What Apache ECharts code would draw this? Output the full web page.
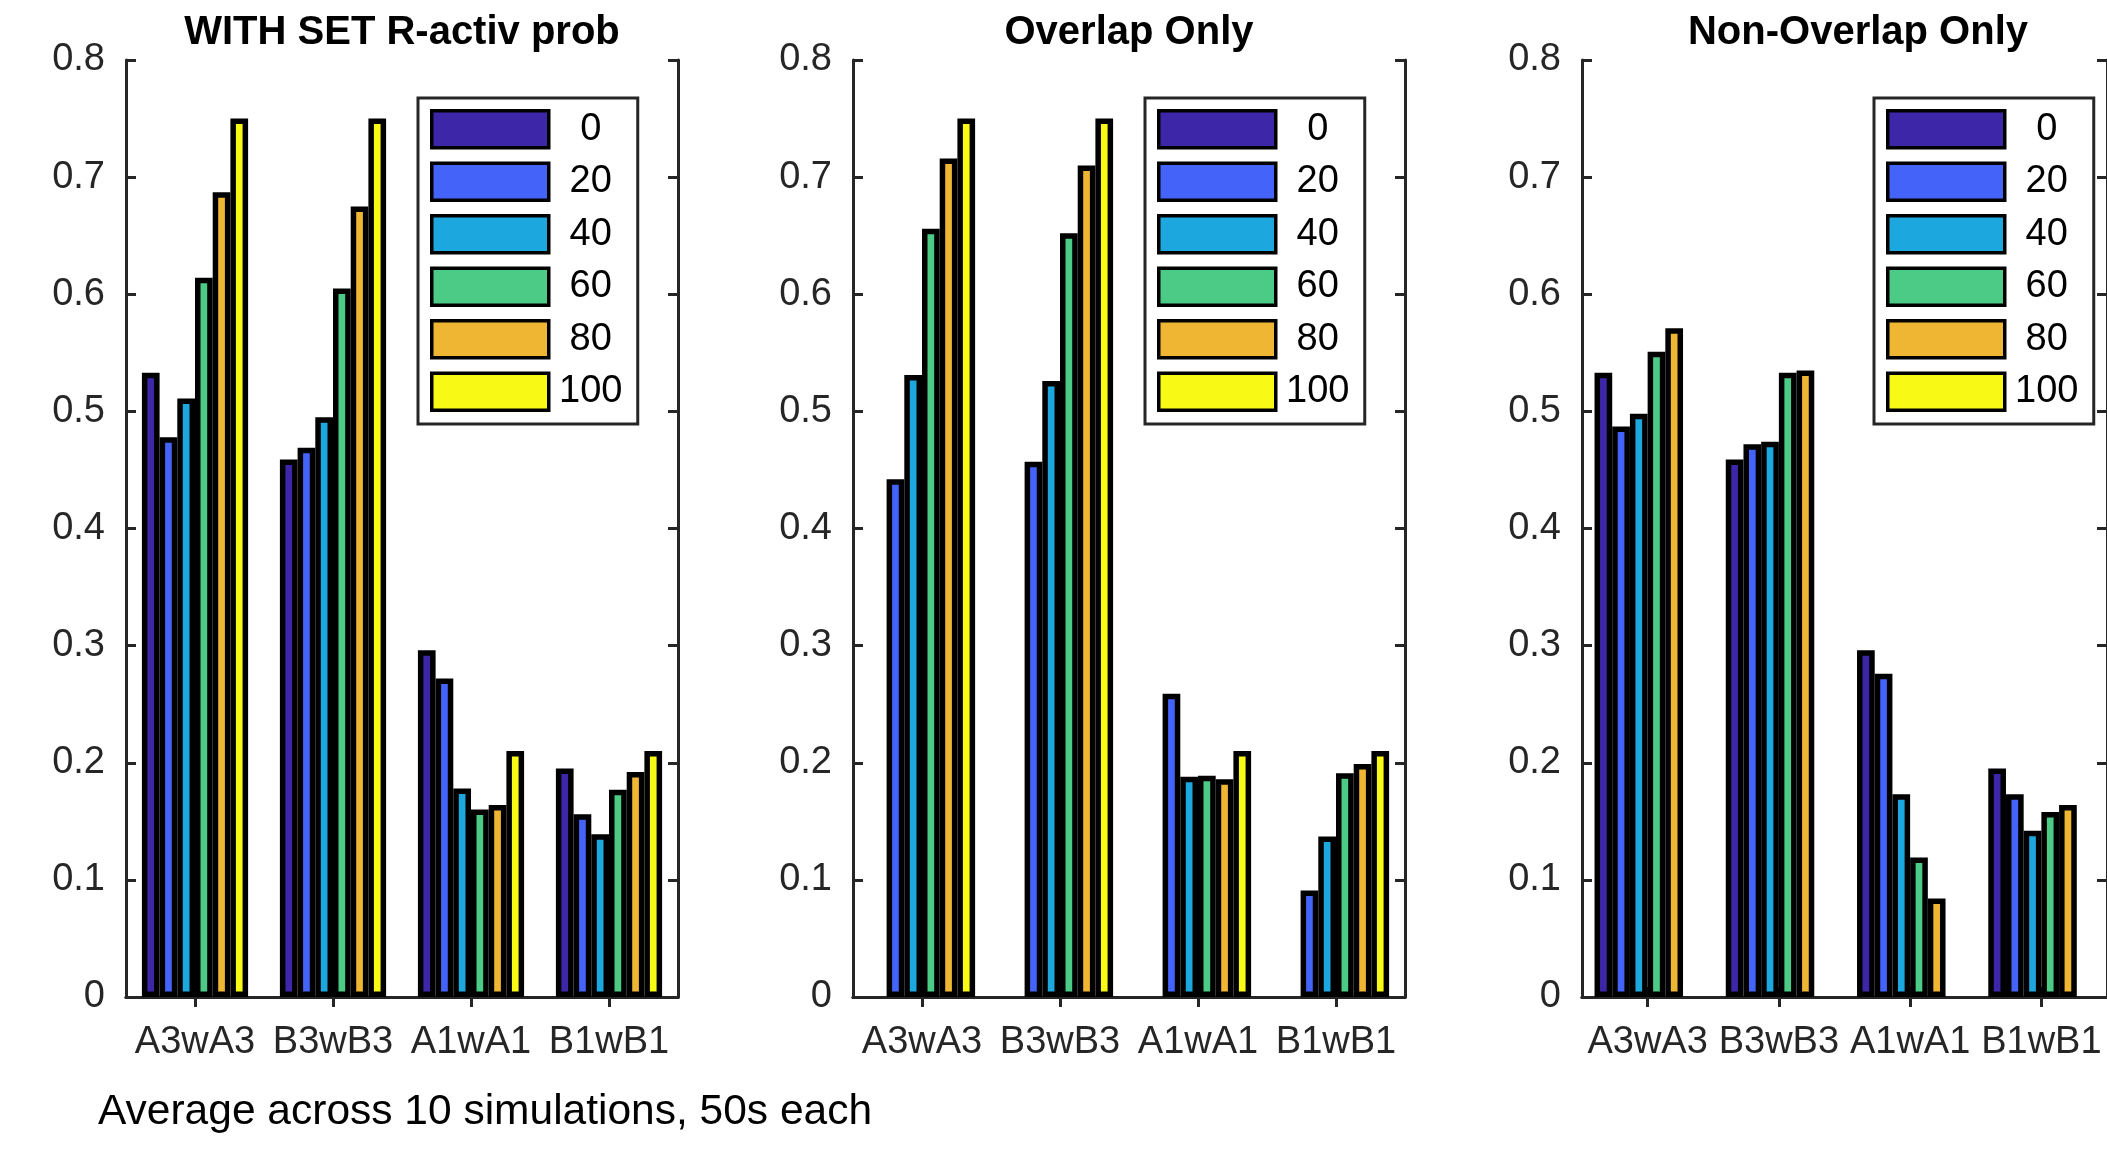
<!DOCTYPE html>
<html>
<head>
<meta charset="utf-8">
<title>R-activ prob</title>
<script src="https://cdn.jsdelivr.net/npm/echarts@6/dist/echarts.min.js"></script>
<style>
  html, body { margin: 0; padding: 0; background: #fff; }
  #chart { width: 2107px; height: 1150px; }
</style>
</head>
<body>
<div id="chart"></div>
<script>
const categories = ['A3wA3', 'B3wB3', 'A1wA1', 'B1wB1']
const probNames = ['0', '20', '40', '60', '80', '100']
const barColors = ['#3d26a8', '#4363f9', '#1ca8de', '#4bcb85', '#efb634', '#f8f915']
const yTicks = [0, 0.1, 0.2, 0.3, 0.4, 0.5, 0.6, 0.7, 0.8]
const panelTitles = ['WITH SET R-activ prob', 'Overlap Only', 'Non-Overlap Only']
const footNote = 'Average across 10 simulations, 50s each'

// one row per R-activ prob (0..100), one value per category
const withSetVals = [
    [0.533, 0.459, 0.296, 0.195],
    [0.478, 0.469, 0.272, 0.156],
    [0.511, 0.495, 0.178, 0.139],
    [0.614, 0.605, 0.160, 0.177],
    [0.687, 0.675, 0.164, 0.192],
    [0.750, 0.750, 0.210, 0.210]
]
const overlapVals = [
    [0, 0, 0, 0],
    [0.442, 0.457, 0.259, 0.091],
    [0.531, 0.526, 0.188, 0.137],
    [0.656, 0.652, 0.189, 0.191],
    [0.716, 0.710, 0.186, 0.199],
    [0.750, 0.750, 0.210, 0.210]
]
const nonOverlapVals = [
    [0.533, 0.459, 0.296, 0.195],
    [0.487, 0.472, 0.276, 0.173],
    [0.498, 0.474, 0.173, 0.142],
    [0.551, 0.533, 0.119, 0.158],
    [0.571, 0.535, 0.084, 0.164],
    [0, 0, 0, 0]
]

const panelVals = [withSetVals, overlapVals, nonOverlapVals]
const panelLeft = [126, 853, 1582]
const panelWidth = 552
const font = "'Liberation Sans', Arial, Helvetica, sans-serif"
const axisColor = '#262626'

const grids = []
const xAxes = []
const yAxes = []
const series = []
const titles = []
const legends = []

panelLeft.forEach((left, p) => {
    grids.push({ left: left, width: panelWidth, top: 60, bottom: 153, containLabel: false })

    // bottom category axis with labels, top one only for the inner ticks
    xAxes.push({
        type: 'category', gridIndex: p, data: categories, position: 'bottom',
        axisLine: { show: true, lineStyle: { color: axisColor, width: 3 } },
        axisTick: { show: true, inside: true, alignWithLabel: true, length: 10, lineStyle: { color: axisColor, width: 3 } },
        axisLabel: { color: axisColor, fontSize: 38, fontFamily: font, margin: 27, interval: 0 },
        splitLine: { show: false }
    })
    xAxes.push({
        type: 'category', gridIndex: p, data: categories, position: 'top',
        axisLine: { show: true, lineStyle: { color: axisColor, width: 3 } },
        axisTick: { show: true, inside: true, alignWithLabel: true, length: 10, lineStyle: { color: axisColor, width: 3 } },
        axisLabel: { show: false },
        splitLine: { show: false }
    })

    const yBase = {
        type: 'value', gridIndex: p, min: 0, max: 0.8, interval: 0.1,
        axisLine: { show: true, lineStyle: { color: axisColor, width: 3 } },
        axisTick: { show: true, inside: true, length: 10, lineStyle: { color: axisColor, width: 3 } },
        splitLine: { show: false }
    }
    yAxes.push(Object.assign({}, yBase, {
        position: 'left',
        axisLabel: {
            color: axisColor, fontSize: 38, fontFamily: font, margin: 21,
            formatter: v => String(yTicks[Math.round(v * 10)])
        }
    }))
    yAxes.push(Object.assign({}, yBase, { position: 'right', axisLabel: { show: false } }))

    panelVals[p].forEach((vals, s) => {
        series.push({
            name: probNames[s],
            type: 'bar',
            xAxisIndex: p * 2,
            yAxisIndex: p * 2,
            // zero bars: no edge, so nothing is stroked on the axis
            data: vals.map(v => v === 0 ? { value: 0, itemStyle: { borderWidth: 0 } } : v),
            barWidth: 17.7,
            barGap: '0%',
            itemStyle: { color: barColors[s], borderColor: '#000', borderWidth: 5.5 },
            emphasis: { disabled: true },
            animation: false
        })
    })

    titles.push({
        text: panelTitles[p],
        left: left + panelWidth / 2,
        top: 13,
        textAlign: 'center',
        padding: 0,
        textStyle: { fontSize: 40, fontWeight: 'bold', color: '#000', fontFamily: font }
    })

    legends.push({
        data: probNames,
        orient: 'vertical',
        left: left + 292,
        top: 98,
        padding: [11, 10, 12, 12],
        backgroundColor: '#fff',
        borderColor: axisColor,
        borderWidth: 3,
        icon: 'rect',
        itemWidth: 117,
        itemHeight: 37,
        itemGap: 12,
        itemStyle: { borderColor: '#000', borderWidth: 3.5 },
        selectedMode: false,
        formatter: name => '{a|' + name + '}',
        textStyle: {
            rich: { a: { width: 74, align: 'center', fontSize: 38, lineHeight: 40, color: '#000', fontFamily: font } }
        }
    })
})

titles.push({
    text: footNote,
    left: 98,
    top: 1091,
    padding: 0,
    textStyle: { fontSize: 42.5, fontWeight: 'normal', color: '#000', fontFamily: font }
})

const chartInstance = echarts.init(document.getElementById('chart'))
chartInstance.setOption({
    backgroundColor: '#fff',
    animation: false,
    title: titles,
    legend: legends,
    grid: grids,
    xAxis: xAxes,
    yAxis: yAxes,
    series: series
})
</script>
</body>
</html>
